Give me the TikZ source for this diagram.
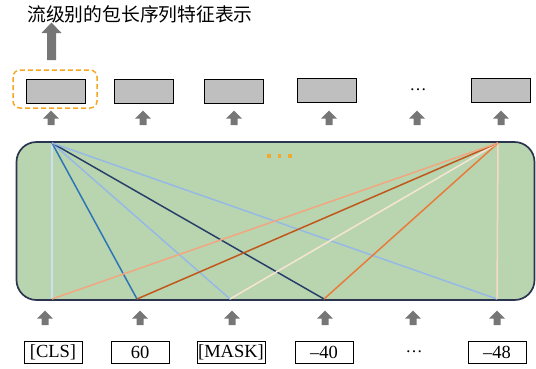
\documentclass[tikz,border=0pt]{standalone}
\usepackage{fontspec}
\setmainfont{Liberation Serif}
\newfontfamily\cjk{Noto Sans CJK SC}
\definecolor{tfgreen}{RGB}{185,213,176}
\definecolor{tfborder}{RGB}{44,53,80}
\definecolor{arrgray}{RGB}{118,118,118}
\definecolor{boxgray}{RGB}{191,191,191}
\definecolor{dashorange}{RGB}{245,166,35}
\definecolor{dotorange}{RGB}{240,170,50}
\definecolor{bluepale}{RGB}{205,224,242}
\definecolor{bluemid}{RGB}{46,117,182}
\definecolor{bluelight}{RGB}{150,185,228}
\definecolor{bluedark}{RGB}{40,64,105}
\definecolor{orpale}{RGB}{246,218,200}
\definecolor{ormid}{RGB}{233,123,58}
\definecolor{orcream}{RGB}{248,228,210}
\definecolor{ordark}{RGB}{192,87,27}
\definecolor{orlight}{RGB}{240,167,127}
\begin{document}
\begin{tikzpicture}[x=1pt,y=-1pt,
  graybox/.style={draw=black,line width=1pt,fill=boxgray,minimum width=59pt,minimum height=24pt,inner sep=0pt},
  tokbox/.style={draw=black,line width=0.8pt,minimum width=58pt,minimum height=22pt,inner sep=1pt,font=\fontsize{18.5}{19}\selectfont},
  attn/.style={line width=1.5pt},
  uparr/.pic={\fill[arrgray] (-3.5,0) -- (-3.5,-6.5) -- (-8,-6.5) -- (0,-14.5) -- (8,-6.5) -- (3.5,-6.5) -- (3.5,0) -- cycle;}
]
\useasboundingbox (0,0) rectangle (536,368);

% title
\node[font=\cjk\fontsize{18.8}{20}\selectfont, anchor=west, inner sep=0pt] (title) at (27,14) {流级别的包长序列特征表示};

% big arrow
\fill[arrgray] (47,60) -- (47,33) -- (41.5,33) -- (51.5,22.5) -- (61.5,33) -- (56,33) -- (56,60) -- cycle;

% output boxes
\draw[dashorange,line width=1.5pt,dash pattern=on 5pt off 3pt,rounded corners=7pt] (13,70) rectangle (97,108);
\node[graybox] (o1) at (56,91) {};
\node[graybox] (o2) at (143.5,91) {};
\node[graybox] (o3) at (234,91) {};
\node[graybox] (o4) at (326.5,90) {};
\node[font=\fontsize{17}{18}\selectfont] (odots) at (418,90) {…};
\node[graybox] (o6) at (500.5,90) {};

% small arrows top
\foreach \x in {51,143,234,329,417,501} \pic at (\x,125) {uparr};

% transformer block
\draw[fill=tfgreen,draw=tfborder,line width=1.7pt,rounded corners=20pt] (16.5,142) rectangle (534.5,300);

\coordinate (t1) at (52,143);
\coordinate (t6) at (498,143);
\coordinate (b1) at (52,299);
\coordinate (b2) at (137,299);
\coordinate (b3) at (230,299);
\coordinate (b4) at (324,299);
\coordinate (b6) at (497,299);

\draw[attn,bluepale] (t1) -- (b1);
\draw[attn,bluemid] (t1) -- (b2);
\draw[attn,bluelight] (t1) -- (b3);
\draw[attn,bluedark] (t1) -- (b4);
\draw[attn,bluelight] (t1) -- (b6);
\draw[attn,orpale] (t6) -- (b6);
\draw[attn,ormid] (t6) -- (b4);
\draw[attn,orcream] (t6) -- (b3);
\draw[attn,ordark] (t6) -- (b2);
\draw[attn,orlight] (t6) -- (b1);

% orange dots
\foreach \x in {269,279.5,290} \fill[dotorange] (\x-1.6,154.4) rectangle (\x+1.6,157.6);

% small arrows bottom
\foreach \x in {45,140,232,325,413,497} \pic at (\x,325) {uparr};

% tokens
\node[tokbox] (k1) at (53,352) {[CLS]};
\node[tokbox] (k2) at (140,352) {60};
\node[tokbox,minimum width=68pt] (k3) at (231,352) {[MASK]};
\node[tokbox] (k4) at (324,352) {–40};
\node[font=\fontsize{17}{18}\selectfont] (kdots) at (414,352) {…};
\node[tokbox] (k6) at (497,352) {–48};
\end{tikzpicture}
\end{document}
